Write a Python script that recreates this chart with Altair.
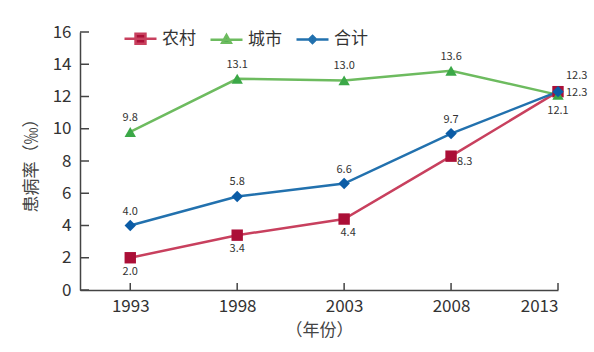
import altair as alt
import pandas as pd

FONT = "Noto Sans CJK SC"

years = [1993, 1998, 2003, 2008, 2013]
series = ["农村", "城市", "合计"]
rural = [2.0, 3.4, 4.4, 8.3, 12.3]
urban = [9.8, 13.1, 13.0, 13.6, 12.1]
total = [4.0, 5.8, 6.6, 9.7, 12.3]
y_ticks = [0, 2, 4, 6, 8, 10, 12, 14, 16]

line_colors = ["#c8405e", "#6dbb5f", "#2271ae"]
marker_colors = ["#ab0f37", "#3ba847", "#0b5ca6"]
shapes = ["square", "triangle-up", "diamond"]
sizes = [130, 130, 130]
legend_paths = [
    "M-1,0H1M-0.31,-0.31H0.31V0.31H-0.31Z",
    "M-1,0H1M0,-0.28L0.27,0.2H-0.27Z",
    "M-1,0H1M0,-0.22L0.22,0L0,0.22L-0.22,0Z",
]

rows = []
for s, vals in zip(series, [rural, urban, total]):
    for y, v in zip(years, vals):
        rows.append({"year": y, "series": s, "value": v})
df = pd.DataFrame(rows)

xs = alt.Scale(domain=[1990.65, 2013], nice=False, zero=False)
ys = alt.Scale(domain=[0, 16], nice=False)

x_axis = alt.Axis(values=years, format="d", labelPadding=8, titlePadding=8,
                  titleFontSize=17, titleFontWeight="normal", titleColor="#444")
y_axis = alt.Axis(values=y_ticks, labelPadding=9, titlePadding=12, labelOverlap=False,
                  titleFontSize=17, titleFontWeight="normal", titleColor="#444")


def X(field="year"):
    return alt.X(f"{field}:Q", scale=xs, title="（年份）", axis=x_axis)


def Y(field="value"):
    return alt.Y(f"{field}:Q", scale=ys, title="患病率（‰）", axis=y_axis)


leg = alt.Legend(title=None, orient="none", legendX=43, legendY=-11,
                 direction="horizontal", columns=3, symbolSize=1024, symbolStrokeWidth=2.5,
                 labelFontSize=17, labelColor="#333", labelFont=FONT, labelOffset=4,
                 columnPadding=9, symbolOpacity=1)

legend_layer = alt.Chart(df).mark_point(filled=True, opacity=0).encode(
    x=X(), y=Y(),
    fill=alt.Fill("series:N", scale=alt.Scale(domain=series, range=marker_colors), legend=leg),
    stroke=alt.Stroke("series:N", scale=alt.Scale(domain=series, range=line_colors), legend=leg),
    shape=alt.Shape("series:N", scale=alt.Scale(domain=series, range=legend_paths), legend=leg))

line_layers = []
point_layers = []
for s, lc, mc, sh, sz in zip(series, line_colors, marker_colors, shapes, sizes):
    base = alt.Chart(df).transform_filter(alt.datum.series == s)
    line_layers.append(base.mark_line(strokeWidth=2.5, color=lc).encode(x=X(), y=Y()))
    point_layers.append(base.mark_point(filled=True, shape=sh, size=sz, opacity=1, color=mc)
                        .encode(x=X(), y=Y()))


def labels(filt, dx, dy, align="center"):
    return (
        alt.Chart(df).transform_filter(filt)
        .mark_text(font=FONT, fontSize=11, color="#333", dx=dx, dy=dy, align=align, baseline="middle")
        .encode(x=X(), y=Y(), text=alt.Text("value:Q", format=".1f"))
    )


lab = [
    labels("datum.series == '城市' && datum.year < 2013", 0, -14),
    labels("datum.series == '城市' && datum.year == 2013", 0, 16),
    labels("datum.series == '合计' && datum.year < 2013", 0, -14),
    labels("datum.series == '合计' && datum.year == 2013", 8, -16, "left"),
    labels("datum.series == '农村' && datum.year < 2003", 0, 14),
    labels("datum.series == '农村' && datum.year == 2003", 4, 14),
    labels("datum.series == '农村' && datum.year == 2008", 6, 6, "left"),
    labels("datum.series == '农村' && datum.year == 2013", 8, 1, "left"),
]

ytick_layer = alt.Chart(pd.DataFrame({"value": y_ticks})).mark_rule(color="#444", strokeWidth=1.5).encode(
    y=Y(), x=alt.value(0), x2=alt.value(9))
xtick_layer = alt.Chart(pd.DataFrame({"year": years})).mark_rule(color="#444", strokeWidth=1.5).encode(
    x=X(), y=alt.value(258), y2=alt.value(251))

chart = alt.layer(legend_layer, *line_layers, *point_layers, *lab, ytick_layer, xtick_layer).properties(
    width=478, height=258,
    background="white",
    padding={"left": 22, "top": 21, "right": 5, "bottom": 5},
).configure_view(strokeWidth=0).configure_axis(
    domainColor="#444", domainWidth=1.5, ticks=False, grid=False,
    labelFont=FONT, titleFont=FONT, labelFontSize=17, labelColor="#333",
)

chart.save("out.html", embed_options={"renderer": "svg", "actions": False})
